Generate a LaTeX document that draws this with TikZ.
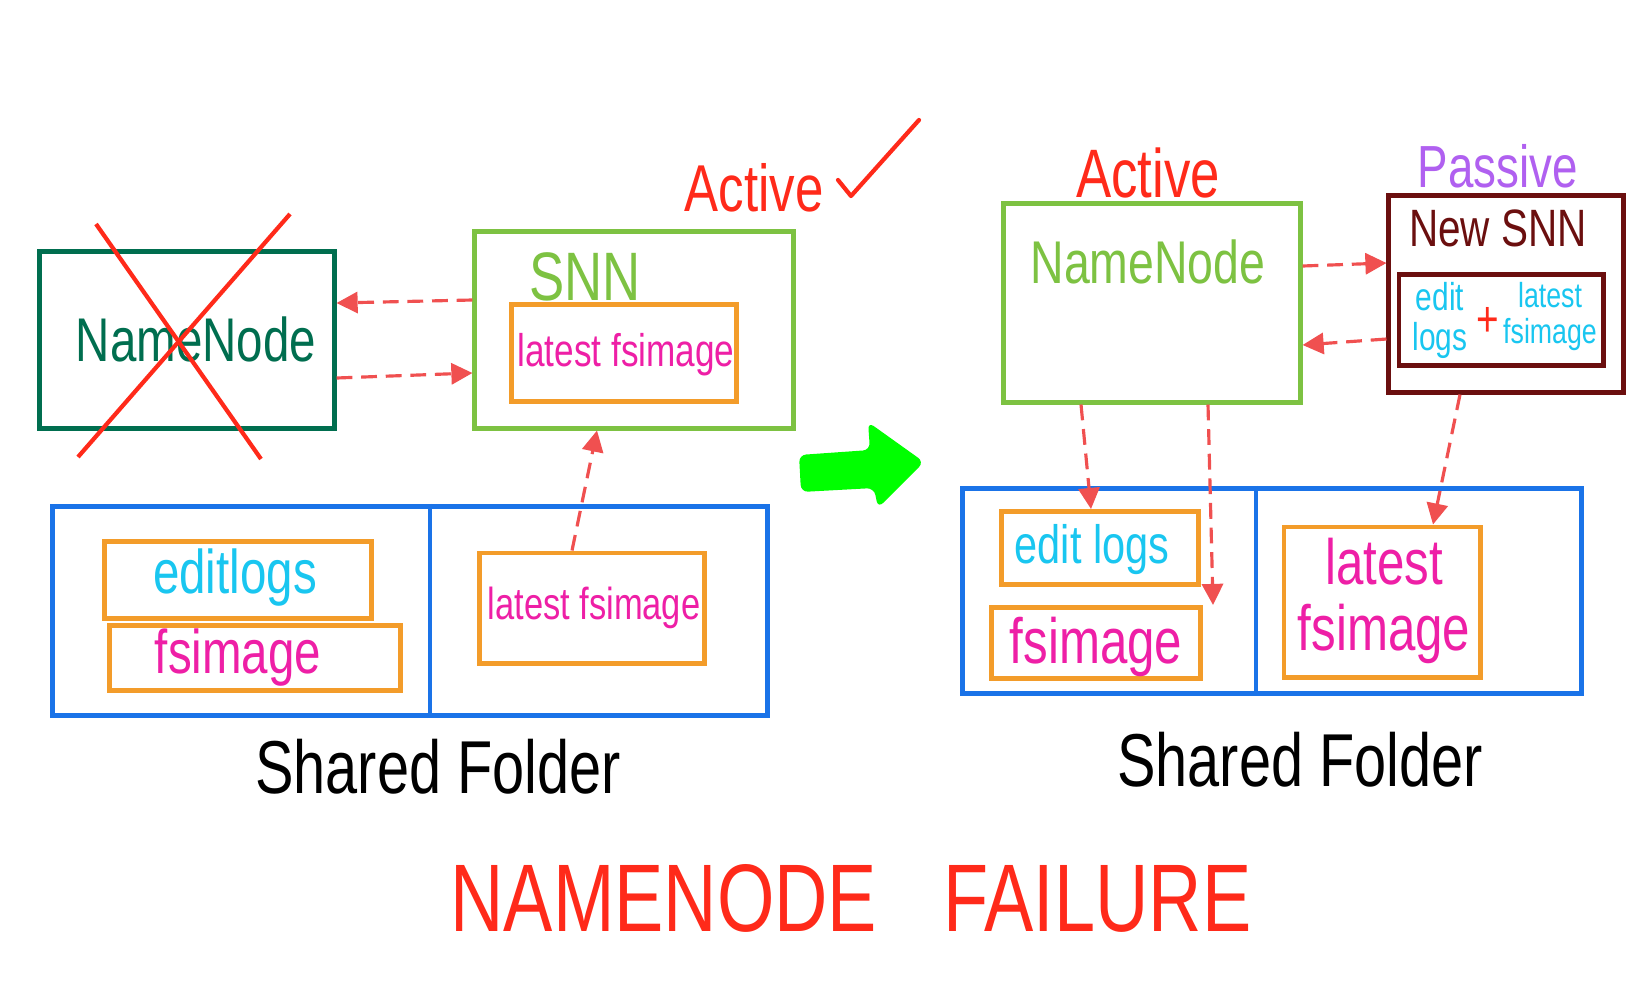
\documentclass[tikz,border=0pt]{standalone}
\usepackage{graphicx}
\usepackage{fontspec}
\setmainfont{Liberation Sans}
\usetikzlibrary{arrows.meta,positioning,calc}

\definecolor{nngreen}{HTML}{006E4F}
\definecolor{snngreen}{HTML}{7DC242}
\definecolor{imgorange}{HTML}{F39C2A}
\definecolor{imgpink}{HTML}{EE1FA6}
\definecolor{logcyan}{HTML}{19C6F0}
\definecolor{folderblue}{HTML}{1A73E8}
\definecolor{failred}{HTML}{FF2A1A}
\definecolor{linkred}{HTML}{F05050}
\definecolor{passpurple}{HTML}{B060F0}
\definecolor{snnmaroon}{HTML}{6B0F0F}
\definecolor{gogreen}{HTML}{00FF00}

\newcommand\tallt[1]{\scalebox{1}[1.3]{#1}}
\newcommand\fsz[1]{\fontsize{#1}{#1}\selectfont}

\tikzset{
    box/.style={draw,line width=1.4pt,inner sep=0pt},
    txt/.style={inner sep=0pt,outer sep=0pt},
    link/.style={draw=linkred,line width=0.9pt,dash pattern=on 4.5pt off 2.5pt,
                 -{Triangle[length=6pt,width=6pt]}}
}

\begin{document}
\begin{tikzpicture}[x=0.01cm,y=-0.01cm]
\useasboundingbox[fill=white] (0,0) rectangle (1637,1000);

% left side: failed namenode and snn
\node[box,draw=nngreen,minimum width=2.94cm,minimum height=1.77cm] (oldnn) at (187,340) {};
\node[txt,text=nngreen,font=\fsz{13.5}] (oldnnlabel) at (196,339) {\tallt{NameNode}};
\draw[failred,line width=1.2pt] (96,224) -- (261,459);
\draw[failred,line width=1.2pt] (290,214) -- (78,457);

\node[box,draw=snngreen,minimum width=3.18cm,minimum height=1.96cm] (snn) at (634,330) {};
\node[txt,text=snngreen,font=\fsz{15}] (snnlabel) at (585,277) {\tallt{SNN}};
\node[box,draw=imgorange,minimum width=2.24cm,minimum height=0.97cm] (snnimg) at (624,353) {};
\node[txt,text=imgpink,font=\fsz{10}] (snnimglabel) at (626,355) {\tallt{latest fsimage}};

\node[txt,text=failred,font=\fsz{14.5}] (activel) at (754,188) {\tallt{Active}};
\draw[failred,line width=1.2pt,line cap=round,line join=round] (838,180) -- (851,196) -- (919,120);

% left shared folder
\node[box,draw=folderblue,minimum width=7.15cm,minimum height=2.09cm] (sfl) at (410,611) {};
\coordinate (ldiv) at (430,611);
\draw[folderblue,line width=1.4pt] (ldiv |- sfl.north) -- (ldiv |- sfl.south);
\node[box,draw=imgorange,minimum width=2.67cm,minimum height=0.77cm] (editl) at (238,580) {};
\node[txt,text=logcyan,font=\fsz{13.5}] (editllabel) at (235,578) {\tallt{editlogs}};
\node[box,draw=imgorange,minimum width=2.90cm,minimum height=0.65cm] (fsl) at (255,658) {};
\node[txt,text=imgpink,font=\fsz{13.5}] (fsllabel) at (238,658) {\tallt{fsimage}};
\node[box,draw=imgorange,minimum width=2.25cm,minimum height=1.10cm] (latestl) at (592,608) {};
\node[txt,text=imgpink,font=\fsz{9.8}] (latestllabel) at (594,608) {\tallt{latest fsimage}};
\node[txt,font=\fsz{16.4}] (sfllabel) at (438,767) {\tallt{Shared Folder}};

\draw[link] ($(snn.west)+(0,-30)$) -- ($(oldnn.east)+(0,-37)$);
\draw[link] ($(oldnn.east)+(0,38)$) -- ($(snn.west)+(0,43)$);
\draw[link] ($(latestl.north)+(-20,0)$) -- ($(snn.south)+(-37,0)$);

% transition arrow
\fill[gogreen,rounded corners=2pt] (799,455) -- (870,450) -- (868,422) -- (924,462)
    -- (878,508) -- (874,488) -- (801,492) -- cycle;

% right side: new active namenode and new snn
\node[txt,text=failred,font=\fsz{15}] (activer) at (1148,173) {\tallt{Active}};
\node[box,draw=snngreen,minimum width=2.96cm,minimum height=1.98cm] (nn2) at (1152,303) {};
\node[txt,text=snngreen,font=\fsz{13.2}] (nn2label) at (1148,262) {\tallt{NameNode}};

\node[txt,text=passpurple,font=\fsz{13}] (passivel) at (1498,166) {\tallt{Passive}};
\node[box,draw=snnmaroon,minimum width=2.34cm,minimum height=1.96cm] (newsnn) at (1506,294) {};
\node[txt,text=snnmaroon,font=\fsz{11.5}] (newsnnlabel) at (1498,228) {\tallt{New SNN}};
\node[box,draw=snnmaroon,minimum width=2.04cm,minimum height=0.91cm] (merged) at (1501,320) {};
\node[txt,text=logcyan,font=\fsz{8.5}] (mergedlogs) at (1440,322)
    {\tallt{\begin{tabular}{@{}c@{}}edit\\[0pt]logs\end{tabular}}};
\node[txt,text=failred,font=\fsz{11}] (mergedplus) at (1488,322) {\tallt{+}};
\node[txt,text=logcyan,font=\fsz{7.6}] (mergedimg) at (1550,318)
    {\tallt{\begin{tabular}{@{}c@{}}latest\\[0pt]fsimage\end{tabular}}};

% right shared folder
\node[box,draw=folderblue,minimum width=6.19cm,minimum height=2.05cm] (sfr) at (1272,591) {};
\coordinate (rdiv) at (1256,591);
\draw[folderblue,line width=1.4pt] (rdiv |- sfr.north) -- (rdiv |- sfr.south);
\node[box,draw=imgorange,minimum width=1.97cm,minimum height=0.73cm] (editr) at (1100,548) {};
\node[txt,text=logcyan,font=\fsz{11.8}] (editrlabel) at (1092,550) {\tallt{edit logs}};
\node[box,draw=imgorange,minimum width=2.09cm,minimum height=0.71cm] (fsr) at (1096,643) {};
\node[txt,text=imgpink,font=\fsz{14}] (fsrlabel) at (1096,647) {\tallt{fsimage}};
\node[box,draw=imgorange,minimum width=1.96cm,minimum height=1.50cm] (latestr) at (1382,602) {};
\node[txt,text=imgpink,font=\fsz{14}] (latestrlabel) at (1384,604)
    {\tallt{\begin{tabular}{@{}c@{}}latest\\[0pt]fsimage\end{tabular}}};
\node[txt,font=\fsz{16.4}] (sfrlabel) at (1300,760) {\tallt{Shared Folder}};

\draw[link] ($(nn2.east)+(0,-37)$) -- ($(newsnn.west)+(0,-31)$);
\draw[link] ($(newsnn.west)+(0,45)$) -- ($(nn2.east)+(0,42)$);
\draw[link] ($(nn2.south)+(-71,0)$) -- ($(editr.north)+(-9,0)$);
\draw[link] ($(nn2.south)+(56,0)$) -- ($(fsr.north east)+(10,0)$);
\draw[link] ($(newsnn.south)+(-46,0)$) -- ($(latestr.north)+(51,0)$);

% title
\node[txt,text=failred,font=\fsz{21}] (title) at (851,898) {\tallt{NAMENODE\hspace{0.9em}FAILURE}};
\end{tikzpicture}
\end{document}
